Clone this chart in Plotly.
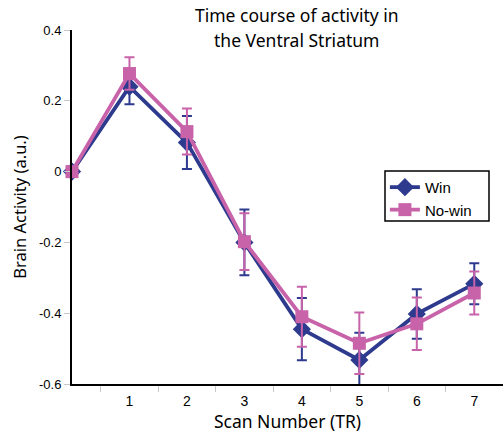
import plotly.graph_objects as go

scan = [0, 1, 2, 3, 4, 5, 6, 7]
win = [0, 0.24, 0.082, -0.2, -0.445, -0.532, -0.402, -0.317]
win_err = [0, 0.05, 0.075, 0.093, 0.088, 0.077, 0.07, 0.058]
nowin = [0, 0.277, 0.113, -0.198, -0.41, -0.485, -0.43, -0.343]
nowin_err = [0, 0.046, 0.065, 0.08, 0.085, 0.087, 0.074, 0.061]
ytick_vals = [0.4, 0.2, 0, -0.2, -0.4, -0.6]
ytick_text = ["0.4", "0.2", "0", "-0.2", "-0.4", "-0.6"]
xtick_vals = [1, 2, 3, 4, 5, 6, 7]
xminor_vals = [0.5, 1.5, 2.5, 3.5, 4.5, 5.5, 6.5, 7.5]

WIN_C = "#2d3a8e"
NOWIN_C = "#c863aa"

fig = go.Figure()
fig.add_trace(go.Scatter(
    x=scan, y=win, name="Win", mode="lines+markers",
    line=dict(color=WIN_C, width=3.8),
    marker=dict(symbol="diamond", size=14, color=WIN_C),
    error_y=dict(type="data", array=win_err, visible=True, color=WIN_C, thickness=2, width=5),
    cliponaxis=False,
))
fig.add_trace(go.Scatter(
    x=scan, y=nowin, name="No-win", mode="lines+markers",
    line=dict(color=NOWIN_C, width=3.8),
    marker=dict(symbol="square", size=13, color=NOWIN_C),
    error_y=dict(type="data", array=nowin_err, visible=True, color=NOWIN_C, thickness=2, width=5),
    cliponaxis=False,
))

fig.update_layout(
    width=503, height=433,
    margin=dict(l=72, r=0, t=30, b=49),
    paper_bgcolor="white", plot_bgcolor="white",
    showlegend=True,
    legend=dict(
        x=0.726, y=0.602, xanchor="left", yanchor="top",
        borderwidth=0, bgcolor="rgba(0,0,0,0)",
        font=dict(family="Liberation Sans, Arial", size=15, color="black"),
        tracegroupgap=0, itemwidth=30,
    ),
    shapes=[dict(type="rect", xref="paper", yref="paper",
                 x0=(385 - 72) / 431, x1=(489 - 72) / 431,
                 y0=(384 - 221) / 354, y1=(384 - 171) / 354,
                 line=dict(color="black", width=1.5), fillcolor="white", layer="above")],
    xaxis=dict(
        range=[0, 7.5], showline=True, linecolor="black", linewidth=2,
        showgrid=False, zeroline=False,
        tickvals=xtick_vals, ticks="", ticklabelstandoff=3,
        tickfont=dict(family="Liberation Sans, Arial", size=14, color="black"),
        minor=dict(tickvals=xminor_vals, ticks="outside", ticklen=6, tickcolor="#c8c8c8", tickwidth=1, showgrid=False),
        title=dict(text="Scan Number (TR)", font=dict(family="Noto Sans", size=17.5, color="black"), standoff=5),
    ),
    yaxis=dict(
        range=[-0.6, 0.4], showline=True, linecolor="black", linewidth=2,
        showgrid=False, zeroline=False,
        tickvals=ytick_vals, ticktext=ytick_text,
        ticks="outside", ticklen=6, tickcolor="#c8c8c8", tickwidth=1,
        tickfont=dict(family="Liberation Sans, Arial", size=13, color="black"),
        title=dict(text="Brain Activity (a.u.)", font=dict(family="Noto Sans", size=16.5, color="black"), standoff=8),
    ),
    annotations=[
        dict(text="Time course of activity in", xref="paper", yref="paper",
             x=0.522, y=(384 - 15) / 354, xanchor="center", yanchor="middle", showarrow=False,
             font=dict(family="Noto Sans", size=17.5, color="black")),
        dict(text="the Ventral Striatum", xref="paper", yref="paper",
             x=0.522, y=(384 - 40) / 354, xanchor="center", yanchor="middle", showarrow=False,
             font=dict(family="Noto Sans", size=17.5, color="black")),
    ],
)

fig.write_html("out.html")
